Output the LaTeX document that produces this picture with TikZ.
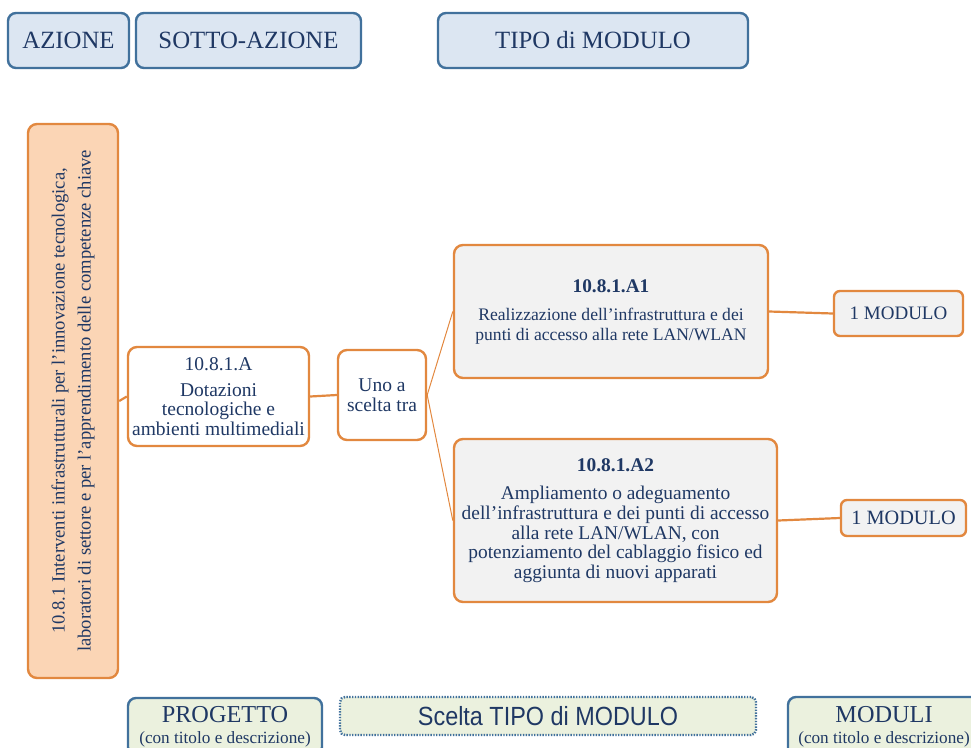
\documentclass[tikz,border=0pt]{standalone}
\usepackage{fontspec}
\setmainfont{Liberation Serif}
\newfontfamily\sansf[FakeStretch=0.89]{Liberation Sans}
\definecolor{txt}{HTML}{1F3864}
\definecolor{bbord}{HTML}{41719C}
\definecolor{bfill}{HTML}{DCE6F2}
\definecolor{obord}{HTML}{E2883F}
\definecolor{ofill}{HTML}{FBD5B5}
\definecolor{gfill}{HTML}{F2F2F2}
\definecolor{lgfill}{HTML}{EBF1DE}
\tikzset{
  hdr/.style={draw=bbord, fill=bfill, line width=2.4pt, rounded corners=8pt, text=txt, inner sep=0pt, font=\fontsize{24.8}{28}\selectfont},
  ftr/.style={draw=bbord, fill=lgfill, line width=2.4pt, rounded corners=8pt, text=txt, inner sep=0pt, align=center},
  obox/.style={draw=obord, line width=2.4pt, rounded corners=9pt, text=txt, inner sep=0pt, align=center},
  conn/.style={draw=obord, line width=2.2pt},
  thinconn/.style={draw=obord, line width=1pt},
}
\begin{document}
\begin{tikzpicture}[x=1pt,y=-1pt]
\useasboundingbox (0,0) rectangle (971,747);
\clip (0,0) rectangle (971,747);
% header
\node[hdr, minimum width=121pt, minimum height=55pt] (az) at (68.5,40.5) {AZIONE};
\node[hdr, minimum width=225pt, minimum height=55pt] (saz) at (248.5,40.5) {SOTTO-AZIONE};
\node[hdr, minimum width=310pt, minimum height=55pt] (tipo) at (593,40.5) {TIPO di MODULO};
% left action box
\node[obox, fill=ofill, minimum width=90pt, minimum height=554pt] (L) at (73,401)
  {\rotatebox{90}{\parbox{540pt}{\centering\fontsize{18.6}{26}\selectfont 10.8.1 Interventi infrastrutturali per l’innovazione tecnologica,\\ laboratori di settore e per l’apprendimento delle competenze chiave}}};
% sub-action
\node[obox, fill=white, minimum width=181pt, minimum height=99pt, font=\fontsize{19.5}{19.5}\selectfont] (A) at (218.5,396.5)
  {10.8.1.A\\[6pt] Dotazioni\\ tecnologiche e\\ ambienti multimediali};
\node[obox, fill=white, minimum width=88pt, minimum height=90pt, font=\fontsize{19.5}{20}\selectfont] (U) at (382,395)
  {Uno a\\ scelta tra};
% module types
\node[obox, fill=gfill, minimum width=314pt, minimum height=133pt, font=\fontsize{17.6}{20}\selectfont] (A1) at (611,311.5)
  {{\fontsize{19.3}{20}\selectfont\textbf{10.8.1.A1}}\\[8pt] Realizzazione dell’infrastruttura e dei\\ punti di accesso alla rete LAN/WLAN};
\node[obox, fill=gfill, minimum width=323pt, minimum height=163pt, font=\fontsize{19.4}{19.7}\selectfont] (A2) at (615.5,520.5)
  {\textbf{10.8.1.A2}\\[9pt] Ampliamento o adeguamento\\ dell’infrastruttura e dei punti di accesso\\ alla rete LAN/WLAN, con\\ potenziamento del cablaggio fisico ed\\ aggiunta di nuovi apparati};
% modules
\node[obox, fill=gfill, rounded corners=6pt, minimum width=129pt, minimum height=45pt, font=\fontsize{19}{20}\selectfont] (M1) at (898.5,313.5) {1 MODULO};
\node[obox, fill=gfill, rounded corners=6pt, minimum width=125pt, minimum height=36pt, font=\fontsize{20.3}{21}\selectfont] (M2) at (903.5,518) {1 MODULO};
% connectors
\draw[conn] (L.east) -- (A.west);
\draw[conn] (A.east) -- (U.west);
\draw[thinconn] (U.east) -- (A1.west);
\draw[thinconn] (U.east) -- (A2.west);
\draw[conn] (A1.east) -- (M1.west);
\draw[conn] (A2.east) -- (M2.west);
% footer
\node[ftr, minimum width=194pt, minimum height=57pt, font=\fontsize{17.2}{21}\selectfont] (prog) at (225,726.5)
  {{\fontsize{24.3}{21}\selectfont PROGETTO}\\ (con titolo e descrizione)};
\node[ftr, dash pattern=on 1.4pt off 1.4pt, rounded corners=5pt, minimum width=416pt, minimum height=38pt] (scelta) at (548,716)
  {\sansf\fontsize{26.3}{28}\selectfont Scelta TIPO di MODULO};
\node[ftr, minimum width=192pt, minimum height=59pt, font=\fontsize{17.2}{21}\selectfont] (mod) at (884,726.5)
  {{\fontsize{24.3}{21}\selectfont MODULI}\\ (con titolo e descrizione)};
\end{tikzpicture}
\end{document}
